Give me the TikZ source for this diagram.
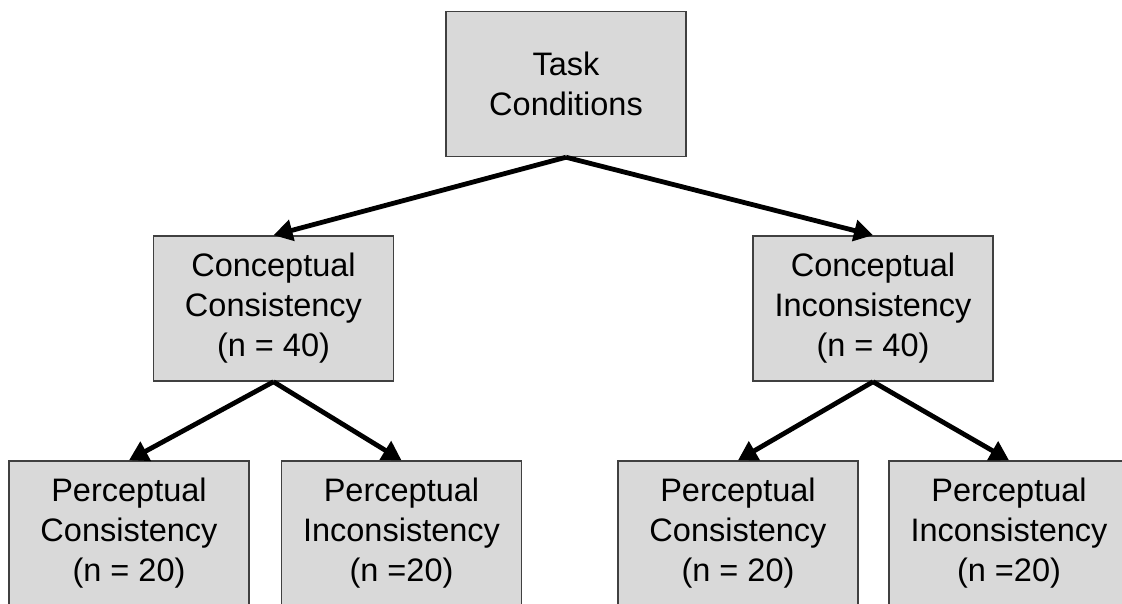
\documentclass[tikz,border=0pt]{standalone}
\usepackage{fontspec}
\setmainfont{Liberation Sans}
\usetikzlibrary{arrows.meta}
\definecolor{boxfill}{HTML}{D9D9D9}
\definecolor{boxline}{HTML}{404040}
\begin{document}
\begin{tikzpicture}[x=1pt,y=-1pt,
  box/.style={draw=boxline, line width=1.5pt, fill=boxfill, minimum width=240pt, minimum height=145pt,
    inner sep=0pt, align=center, font=\fontsize{32.5}{40}\selectfont},
  conn/.style={line width=4.8pt, -{Triangle[length=19pt,width=21pt]}}]
\clip (0,0) rectangle (1122,604);
\fill[white] (0,0) rectangle (1122,604);
\node[box] (task) at (566,84) {Task\\Conditions};
\node[box] (cc) at (273.5,308.5) {Conceptual\\Consistency\\(n = 40)};
\node[box] (ci) at (873,308.5) {Conceptual\\Inconsistency\\(n = 40)};
\node[box] (pc1) at (129,533.5) {Perceptual\\Consistency\\(n = 20)};
\node[box] (pi1) at (401.5,533.5) {Perceptual\\Inconsistency\\(n =20)};
\node[box] (pc2) at (738,533.5) {Perceptual\\Consistency\\(n = 20)};
\node[box] (pi2) at (1009,533.5) {Perceptual\\Inconsistency\\(n =20)};
\draw[conn] (task.south) -- (cc.north);
\draw[conn] (task.south) -- (ci.north);
\draw[conn] (cc.south) -- (pc1.north);
\draw[conn] (cc.south) -- (pi1.north);
\draw[conn] (ci.south) -- (pc2.north);
\draw[conn] (ci.south) -- (pi2.north);
\end{tikzpicture}
\end{document}
